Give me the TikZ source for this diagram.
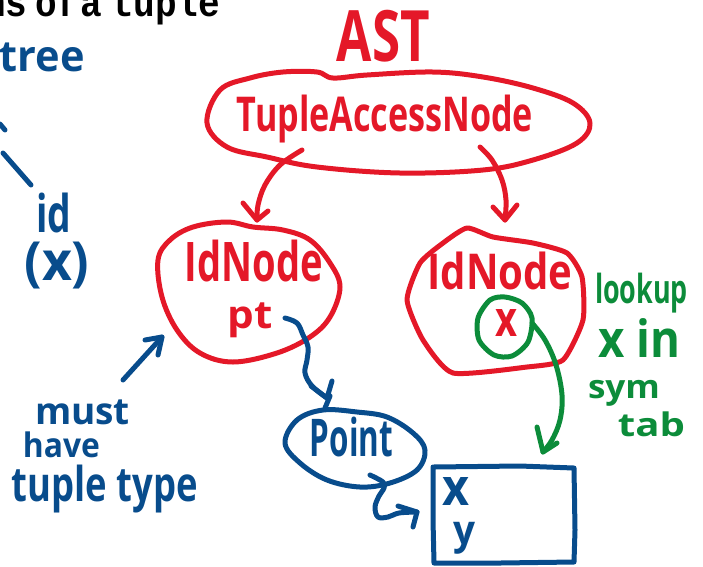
\documentclass[tikz,border=0pt]{standalone}
\usepackage{fontspec}
\setmainfont{Open Sans}
\newfontfamily\monob{Liberation Mono}
\usetikzlibrary{arrows.meta}
\definecolor{hred}{RGB}{228,24,40}
\definecolor{hblue}{RGB}{8,76,140}
\definecolor{hgreen}{RGB}{12,140,58}
\newcommand\fitbox[3]{\resizebox*{#1pt}{#2pt}{\bfseries #3}}
\newcommand\narrowttl[1]{\scalebox{0.88}[1]{#1}}
\tikzset{
  pen/.style={line width=5pt, line cap=round, line join=round},
  redpen/.style={pen, draw=hred},
  bluepen/.style={pen, draw=hblue},
  greenpen/.style={pen, draw=hgreen},
  hand/.style={inner sep=0pt, outer sep=0pt},
  redtxt/.style={hand, text=hred},
  bluetxt/.style={hand, text=hblue},
  greentxt/.style={hand, text=hgreen},
  titletxt/.style={inner sep=0pt, outer sep=0pt, anchor=base west, font=\monob\bfseries\fontsize{41pt}{41pt}\selectfont}
}
\begin{document}
\begin{tikzpicture}[x=1pt,y=-1pt]
\useasboundingbox (0,0) rectangle (703,566);
\clip (0,0) rectangle (703,566);

% title (cut at top)
\node[titletxt] (t1) at (-16,16) {\narrowttl{ns}};
\node[titletxt] (t2) at (35,16) {\narrowttl{of}};
\node[titletxt] (t3) at (80,16) {\narrowttl{a}};
\node[titletxt] (t4) at (112,16) {\narrowttl{tuple}};

% left blue notes
\node[bluetxt] (tree) at (42,57) {\fitbox{85}{29}{tree}};
\draw[bluepen] (0,124) -- (5,130);
\coordinate (lineA) at (3,153);
\coordinate (lineB) at (31,185);
\draw[bluepen] (lineA) -- (lineB);
\node[bluetxt] (id) at (54,213) {\fitbox{35}{40}{id}};
\node[bluetxt] (idx) at (57,266) {\fitbox{65}{47}{(x)}};

% AST
\node[redtxt] (ast) at (383.5,36) {\fitbox{93}{52}{AST}};

% TupleAccessNode
\draw[redpen] plot[smooth cycle, tension=0.6] coordinates {
 (207,123) (220,90) (250,78) (283,72) (317,72) (333,78) (367,75) (433,72)
 (483,77) (533,88) (573,103) (590,123) (577,143) (533,160) (483,170)
 (400,173) (317,167) (267,157) (227,147)};
\node[redtxt] (tan) at (385,119) {\fitbox{296}{48}{TupleAccessNode}};

% left IdNode
\draw[redpen] plot[smooth cycle, tension=0.6] coordinates {
 (158,260) (170,240) (193,227) (227,222) (253,227) (283,230) (310,240)
 (330,263) (340,287) (330,317) (310,337) (277,353) (233,362) (200,353)
 (177,330) (162,297)};
\node[redtxt] (idl) at (254,261) {\fitbox{138}{42}{IdNode}};
\node[redtxt] (pt) at (250,320) {\fitbox{45}{35}{pt}};

% right IdNode
\draw[redpen] plot[smooth cycle, tension=0.35] coordinates {
 (407,300) (420,263) (443,243) (467,228) (493,237) (533,243) (567,253)
 (582,277) (583,320) (563,360) (527,367) (453,373) (423,340)};
\node[redtxt] (idr) at (500,271) {\fitbox{145}{38}{IdNode}};

% green circle with red x
\draw[greenpen] plot[smooth cycle, tension=0.5] coordinates {
 (478,318) (490,300) (505,297) (522,303) (532,318) (528,342) (512,356)
 (494,355) (479,340)};
\node[redtxt] (xr) at (506.5,323) {\fitbox{22}{27}{x}};

% green notes
\node[greentxt] (lookup) at (641.5,293) {\fitbox{93}{40}{lookup}};
\node[greentxt] (xin) at (639,337.5) {\fitbox{82}{39}{x in}};
\node[greentxt] (sym) at (624,393) {\fitbox{72}{26}{sym}};
\node[greentxt] (tab) at (651.5,424.5) {\fitbox{67}{25}{tab}};

% Point
\draw[bluepen] plot[smooth cycle, tension=0.6] coordinates {
 (285,443) (297,420) (323,410) (357,412) (387,417) (413,433) (425,450)
 (417,470) (390,483) (360,487) (327,480) (300,463)};
\node[bluetxt] (point) at (351.5,437) {\fitbox{83}{40}{Point}};

% box
\draw[bluepen] (433,467) -- (520,466) -- (574,468) -- (575,530) -- (574,562)
 -- (500,563) -- (434,563) -- (433,520) -- cycle;
\node[bluetxt] (bx) at (456,491) {\fitbox{27}{28}{x}};
\node[bluetxt] (by) at (464,538.5) {\fitbox{22}{32}{y}};

% red arrows
\coordinate (ra1) at (302,150);
\coordinate (ra2) at (257,220);
\draw[redpen] plot[smooth, tension=0.6] coordinates {(ra1) (280,165) (265,185) (258,205) (ra2)};
\draw[redpen] (243,203) -- (ra2) -- (268,211);
\coordinate (rb1) at (480,147);
\coordinate (rb2) at (505,220);
\draw[redpen] plot[smooth, tension=0.6] coordinates {(rb1) (492,160) (502,180) (506,200) (rb2)};
\draw[redpen] (493,207) -- (rb2) -- (517,205);

% blue pt -> Point
\coordinate (ba1) at (285,318);
\coordinate (ba2) at (327,398);
\draw[bluepen] plot[smooth, tension=0.6] coordinates {(ba1) (297,323) (303,335) (308,347) (307,360) (305,373) (312,386) (ba2)};
\draw[bluepen] (311,386) -- (ba2) -- (332,381);
\draw[bluepen] (330,396) -- (325,408);

% blue Point -> box
\coordinate (bb1) at (370,475);
\coordinate (bb2) at (417,512);
\draw[bluepen] plot[smooth, tension=0.6] coordinates {(bb1) (383,482) (384,488) (379,496) (375,507) (378,517) (388,517) (399,513) (bb2)};
\draw[bluepen] (398,506) -- (bb2) -- (413,527);

% green arrow
\coordinate (ga1) at (532,323);
\coordinate (ga2) at (543,452);
\draw[greenpen] plot[smooth, tension=0.6] coordinates {(ga1) (545,340) (556,365) (562,395) (560,420) (552,440) (ga2)};
\draw[greenpen] (537,427) -- (ga2) -- (557,443);

% must have tuple type
\coordinate (ma1) at (123,380);
\coordinate (ma2) at (162,337);
\draw[bluepen] (ma1) -- (ma2);
\draw[bluepen] (145,340) -- (ma2) -- (158,355);
\node[bluetxt] (must) at (82.5,412.5) {\fitbox{95}{25}{must}};
\node[bluetxt] (have) at (61.5,445) {\fitbox{77}{26}{have}};
\node[bluetxt] (ttype) at (105,489) {\fitbox{186}{48}{tuple type}};
\end{tikzpicture}
\end{document}
